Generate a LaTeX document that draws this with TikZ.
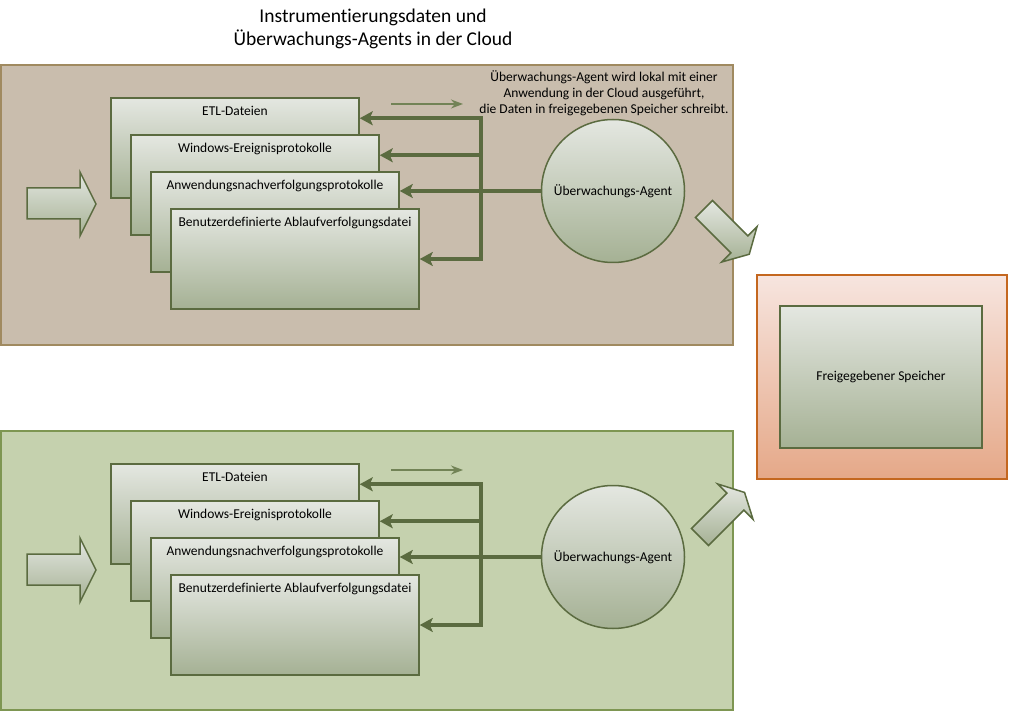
\documentclass[tikz,border=0pt]{standalone}
\usepackage{fontspec}
\setmainfont{Carlito}[Ligatures=NoCommon]
\usetikzlibrary{arrows.meta}

\definecolor{olive}{HTML}{5B6B40}
\definecolor{thinolive}{HTML}{728356}
\definecolor{boxtop}{HTML}{E4E7E1}
\definecolor{boxbot}{HTML}{A5B194}
\definecolor{tanfill}{HTML}{C9BDAD}
\definecolor{tanline}{HTML}{A08A60}
\definecolor{greenfill}{HTML}{C5D1AE}
\definecolor{greenline}{HTML}{7E9652}
\definecolor{storetop}{HTML}{F7E5DF}
\definecolor{storebot}{HTML}{E5A888}
\definecolor{storeline}{HTML}{C4671F}

\begin{document}
\begin{tikzpicture}[x=1pt, y=-1pt, >=Stealth,
  every node/.style={font=\fontsize{13.5}{16}\selectfont, text=black},
  logbox/.style={rectangle, draw=olive, line width=1.5pt, top color=boxtop,
    bottom color=boxbot, minimum width=248pt, minimum height=100pt, inner sep=0pt},
  lbl/.style={anchor=north, yshift=-5pt, text height=9.5pt, text depth=3pt},
  agentnode/.style={circle, draw=olive, line width=1.5pt, top color=boxtop,
    bottom color=boxbot, minimum size=143pt, inner sep=0pt},
  feed/.style={draw=olive, line width=4pt,
    -{Stealth[length=13pt, width=14pt, inset=3pt]}},
  flow/.style={draw=thinolive, line width=1.5pt, -{Stealth[length=12pt, width=9pt]}},
  block/.style={draw=olive, line width=1.5pt, top color=boxtop, bottom color=boxbot,
    line join=miter}]
  \useasboundingbox (0,0) rectangle (1010,711);
  \node[align=center, font=\fontsize{19.5}{23}\selectfont] (title) at (373,29)
    {Instrumentierungsdaten und\\Überwachungs-Agents in der Cloud};
  % panels
  \draw[fill=tanfill, draw=tanline, line width=2pt] (1,65) rectangle (733,345);
  \draw[fill=greenfill, draw=greenline, line width=2pt] (1,431) rectangle (733,710);
  \node[align=center] (note) at (604,93) {Überwachungs-Agent wird lokal mit einer\\
    Anwendung in der Cloud ausgeführt,\\die Daten in freigegebenen Speicher schreibt.};
  \foreach \p/\dy in {a/0, b/366} {
    % input arrow
    \draw[block] (27,188+\dy) -- (80,188+\dy) -- (80,172+\dy) -- (96,204+\dy)
      -- (80,236+\dy) -- (80,219+\dy) -- (27,219+\dy) -- cycle;
    \node[logbox, label={[lbl]north:ETL-Dateien}] (etl\p) at (235,148+\dy) {};
    \node[logbox, label={[lbl]north:Windows-Ereignisprotokolle}] (win\p) at (255,185+\dy) {};
    \node[logbox, label={[lbl]north:Anwendungsnachverfolgungsprotokolle}] (anw\p) at (275,222+\dy) {};
    \node[logbox, label={[lbl]north:Benutzerdefinierte Ablaufverfolgungsdatei}] (ben\p) at (295,259+\dy) {};
    \node[agentnode] (agent\p) at (613,191+\dy) {Überwachungs-Agent};
    \coordinate (hub\p) at (481,191+\dy);
    \coordinate (s\p) at (391,104+\dy);
    \coordinate (e\p) at (463,104+\dy);
    \draw[flow] (s\p) -- (e\p);
    % agent writes to every log
    \draw[feed] (agent\p.west) -- (agent\p.west -| anw\p.east);
    \draw[feed] (hub\p) |- ([yshift=-21pt]etl\p.north east);
    \draw[feed] (hub\p) |- ([yshift=-21pt]win\p.north east);
    \draw[feed] (hub\p) |- (ben\p.east);
  }
  % arrows to shared storage
  \begin{scope}[shift={(704,209)}, rotate=-45]
    \draw[block] (0,-12) -- (50,-12) -- (50,-25) -- (64,0) -- (50,25) -- (50,12) -- (0,12) -- cycle;
  \end{scope}
  \begin{scope}[shift={(700,537)}, rotate=45]
    \draw[block] (0,-12) -- (50,-12) -- (50,-25) -- (63,0) -- (50,25) -- (50,12) -- (0,12) -- cycle;
  \end{scope}
  \node[draw=storeline, line width=2pt, top color=storetop, bottom color=storebot,
    minimum width=250pt, minimum height=204pt] (store) at (882,377) {};
  \node[logbox, minimum width=202pt, minimum height=142pt] (speicher) at (881,377)
    {Freigegebener Speicher};
\end{tikzpicture}
\end{document}
